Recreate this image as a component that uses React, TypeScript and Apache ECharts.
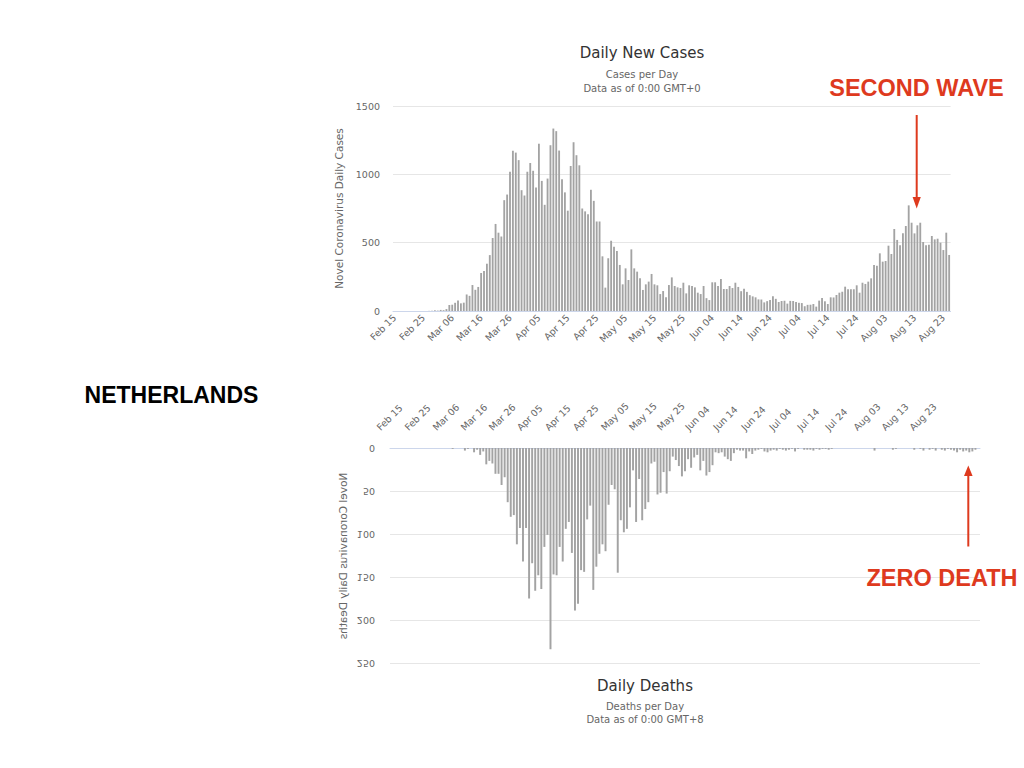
import { useEffect, useRef } from "react";
import * as echarts from "echarts";

// ---------- data ----------
const MONTHS = ["Feb", "Mar", "Apr", "May", "Jun", "Jul", "Aug"];
const MONTH_FIRST_DAY = [15, 1, 1, 1, 1, 1, 1];
const MONTH_LAST_DAY = [29, 31, 30, 31, 30, 31, 25];

const categories: string[] = [];
MONTHS.forEach((m, k) => {
  for (let d = MONTH_FIRST_DAY[k]; d <= MONTH_LAST_DAY[k]; d++) {
    categories.push(`${m} ${d < 10 ? "0" + d : d}`);
  }
});

const casesFeb = [0, 0, 0, 0, 0, 0, 0, 0, 0, 0, 0, 0, 1, 1, 5];
const casesMar = [3, 8, 6, 14, 44, 46, 60, 77, 56, 61, 121, 111, 190, 155, 176, 278, 292, 346, 409, 534, 637, 573, 545, 811, 852, 1019, 1172, 1159, 1104, 884, 845];
const casesApr = [1019, 1083, 1026, 904, 1224, 952, 777, 969, 1213, 1335, 1316, 1174, 964, 868, 734, 1061, 1235, 1140, 1066, 750, 729, 708, 887, 806, 655, 655, 400, 171, 386, 514];
const casesMay = [470, 439, 337, 195, 312, 227, 451, 312, 288, 239, 154, 195, 215, 271, 195, 188, 124, 146, 100, 190, 246, 183, 173, 168, 207, 129, 188, 183, 173, 134, 124];
const casesJun = [183, 94, 80, 210, 210, 183, 234, 161, 161, 183, 168, 207, 176, 145, 163, 140, 116, 107, 100, 85, 84, 63, 72, 80, 108, 89, 66, 73, 75, 54];
const casesJul = [74, 73, 66, 60, 58, 35, 45, 46, 51, 32, 76, 95, 71, 51, 100, 99, 117, 134, 141, 178, 159, 159, 159, 188, 134, 207, 198, 215, 239, 337, 332];
const casesAug = [422, 361, 366, 478, 417, 600, 520, 481, 568, 622, 773, 646, 568, 627, 646, 505, 481, 485, 549, 524, 529, 500, 446, 573, 410];

const deathsFeb = [0, 0, 0, 0, 0, 0, 0, 0, 0, 0, 0, 0, 0, 0, 0];
const deathsMar = [0, 0, 0, 0, 0, 1, 0, 0, 0, 3, 1, 0, 5, 2, 8, 4, 19, 15, 18, 30, 30, 43, 34, 63, 80, 78, 112, 93, 132, 93, 175];
const deathsApr = [134, 166, 148, 164, 115, 101, 234, 147, 148, 115, 132, 94, 86, 122, 189, 181, 142, 144, 83, 67, 165, 138, 123, 112, 120, 66, 43, 48, 145, 84];
const deathsMay = [98, 94, 69, 26, 86, 36, 84, 71, 63, 18, 16, 54, 52, 28, 53, 27, 10, 14, 21, 33, 27, 13, 23, 11, 8, 26, 15, 32, 28, 20, 5];
const deathsJun = [6, 5, 10, 13, 15, 6, 2, 3, 3, 12, 4, 7, 3, 2, 1, 4, 5, 3, 2, 3, 1, 2, 3, 2, 1, 4, 1, 0, 2, 2];
const deathsJul = [2, 3, 1, 2, 1, 1, 2, 1, 0, 0, 0, 0, 0, 0, 0, 0, 0, 0, 0, 0, 0, 3, 0, 0, 0, 0, 0, 2, 1, 0, 0];
const deathsAug = [0, 0, 0, 2, 0, 1, 3, 0, 2, 1, 3, 0, 2, 3, 1, 2, 3, 5, 2, 4, 3, 5, 4, 2, 0];

const cases = [...casesFeb, ...casesMar, ...casesApr, ...casesMay, ...casesJun, ...casesJul, ...casesAug];
const deaths = [...deathsFeb, ...deathsMar, ...deathsApr, ...deathsMay, ...deathsJun, ...deathsJul, ...deathsAug];

const deathTicks = [0, 50, 100, 150, 200, 250];

// ---------- styles ----------
const FONT = "DejaVu Sans";
const BOLD_FONT = "Liberation Sans";
const RED = "#de3a1e";
const BAR = "#a3a3a3";
const GRID_LINE = "#e6e6e6";
const AXIS_LINE = "#ccd6eb";
const LABEL = "#666666";

export default function App() {
  const ref = useRef<HTMLDivElement>(null);

  useEffect(() => {
    if (!ref.current) return;
    const chart = echarts.init(ref.current, undefined, { renderer: "svg" });

    const labelStyle = { fontFamily: FONT, fontSize: 9.5, color: LABEL };

    const option: any = {
      animation: false,
      backgroundColor: "#ffffff",
      title: [
        {
          text: "Daily New Cases",
          subtext: "Cases per Day\nData as of 0:00 GMT+0",
          left: 642,
          top: 44,
          padding: 0,
          textAlign: "center",
          itemGap: 5,
          textStyle: { fontFamily: FONT, fontSize: 15, fontWeight: "normal", color: "#333333", lineHeight: 18 },
          subtextStyle: { fontFamily: FONT, fontSize: 10, color: LABEL, lineHeight: 14 },
        },
        {
          text: "Daily Deaths",
          subtext: "Deaths per Day\nData as of 0:00 GMT+8",
          left: 645,
          top: 677,
          padding: 0,
          textAlign: "center",
          itemGap: 4.5,
          textStyle: { fontFamily: FONT, fontSize: 15, fontWeight: "normal", color: "#333333", lineHeight: 18 },
          subtextStyle: { fontFamily: FONT, fontSize: 10, color: LABEL, lineHeight: 13 },
        },
      ],
      grid: [
        { left: 393, top: 106, width: 557.6, height: 205 },
        { left: 390, top: 448, width: 590, height: 215 },
        { left: 376.8, top: 434.8, width: 541.2, height: 1 },
      ],
      xAxis: [
        {
          type: "category",
          gridIndex: 0,
          data: categories,
          axisLine: { show: true, lineStyle: { color: AXIS_LINE, width: 1 } },
          axisTick: { show: false },
          axisLabel: { ...labelStyle, interval: 9, rotate: 45, margin: 5 },
          splitLine: { show: false },
        },
        {
          type: "category",
          gridIndex: 1,
          position: "top",
          data: categories,
          axisLine: { show: true, lineStyle: { color: AXIS_LINE, width: 1 } },
          axisTick: { show: false },
          axisLabel: { show: false },
          splitLine: { show: false },
        },
        {
          type: "category",
          gridIndex: 2,
          position: "top",
          data: categories,
          axisLine: { show: false },
          axisTick: { show: false },
          axisLabel: { ...labelStyle, interval: 9, rotate: 45, margin: 6 },
          splitLine: { show: false },
        },
      ],
      yAxis: [
        {
          type: "value",
          gridIndex: 0,
          min: 0,
          max: 1500,
          interval: 500,
          name: "Novel Coronavirus Daily Cases",
          nameLocation: "middle",
          nameRotate: 90,
          nameGap: 44,
          nameTextStyle: { fontFamily: FONT, fontSize: 10.5, color: LABEL },
          axisLine: { show: false },
          axisTick: { show: false },
          axisLabel: { ...labelStyle, margin: 13, formatter: (v: number) => String(v) },
          splitLine: { show: true, lineStyle: { color: GRID_LINE, width: 1 } },
        },
        {
          type: "value",
          gridIndex: 1,
          inverse: true,
          min: 0,
          max: 250,
          interval: 50,
          axisLine: { show: false },
          axisTick: { show: false },
          axisLabel: { show: false },
          splitLine: { show: true, lineStyle: { color: GRID_LINE, width: 1 } },
        },
        {
          type: "value",
          gridIndex: 2,
          show: false,
          min: 0,
          max: 1,
          splitLine: { show: false },
        },
      ],
      series: [
        {
          name: "Daily Cases",
          type: "bar",
          xAxisIndex: 0,
          yAxisIndex: 0,
          data: cases,
          barWidth: "64%",
          itemStyle: { color: BAR },
          silent: true,
        },
        {
          name: "Daily Deaths",
          type: "bar",
          xAxisIndex: 1,
          yAxisIndex: 1,
          data: deaths,
          barWidth: "64%",
          itemStyle: { color: BAR },
          silent: true,
        },
      ],
    };

    chart.setOption(option);

    const textEl = (x: number, y: number, text: string, extra: any, styleExtra: any) => ({
      type: "text",
      x,
      y,
      ...extra,
      style: {
        text,
        align: "center",
        textAlign: "center",
        verticalAlign: "middle",
        textVerticalAlign: "middle",
        ...styleExtra,
      },
    });

    const flippedLabels = deathTicks.map((v) => {
      const y = chart.convertToPixel({ yAxisIndex: 1 } as any, v) as unknown as number;
      return textEl(375, y, String(v), { scaleY: -1 }, {
        align: "right",
        textAlign: "right",
        fontFamily: FONT,
        fontSize: 9.5,
        fill: LABEL,
      });
    });

    const graphics: any[] = [
      textEl(171.5, 395, "NETHERLANDS", {}, { fontFamily: BOLD_FONT, fontWeight: "bold", fontSize: 23, fill: "#000000" }),
      textEl(916.5, 88, "SECOND WAVE", {}, { fontFamily: BOLD_FONT, fontWeight: "bold", fontSize: 23.5, fill: RED }),
      textEl(942, 578, "ZERO DEATH", {}, { fontFamily: BOLD_FONT, fontWeight: "bold", fontSize: 23.5, fill: RED }),
      { type: "line", shape: { x1: 916.7, y1: 115, x2: 916.7, y2: 199 }, style: { stroke: RED, lineWidth: 2 } },
      { type: "polygon", shape: { points: [[912.6, 197], [920.8, 197], [916.7, 208.5]] }, style: { fill: RED } },
      { type: "line", shape: { x1: 968.3, y1: 546.5, x2: 968.3, y2: 474 }, style: { stroke: RED, lineWidth: 2 } },
      { type: "polygon", shape: { points: [[964, 476], [972.6, 476], [968.3, 465.5]] }, style: { fill: RED } },
      textEl(342.5, 556, "Novel Coronavirus Daily Deaths", { rotation: Math.PI / 2, scaleX: -1 }, {
        fontFamily: FONT,
        fontSize: 10.5,
        fill: LABEL,
      }),
      ...flippedLabels,
    ];

    chart.setOption({ graphic: graphics });

    return () => {
      chart.dispose();
    };
  }, []);

  return (
    <div
      ref={ref}
      style={{ position: "fixed", left: 0, top: 0, width: 1024, height: 768, background: "#fff" }}
    />
  );
}
